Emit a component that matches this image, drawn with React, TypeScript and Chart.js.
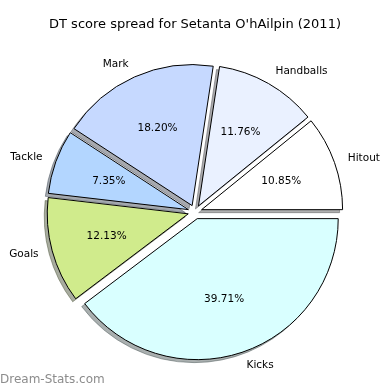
import React, { useEffect, useRef } from "react";
import { Chart, registerables } from "chart.js";

Chart.register(...registerables);

const TITLE = "DT score spread for Setanta O'hAilpin (2011)";
const WATERMARK = "Dream-Stats.com";
const categories = ["Hitout", "Handballs", "Mark", "Tackle", "Goals", "Kicks"];
const values = [10.85, 11.76, 18.2, 7.35, 12.13, 39.71];
const colors = ["#FFFFFF", "#EAF1FF", "#C6D9FF", "#B3D6FF", "#D0EB8C", "#D9FFFF"];
const EXPLODE = 7;
const FONT = "'DejaVu Sans', sans-serif";

function shadowColor(hex: string) {
  const r = Math.round(parseInt(hex.slice(1, 3), 16) * 0.3);
  const g = Math.round(parseInt(hex.slice(3, 5), 16) * 0.3);
  const b = Math.round(parseInt(hex.slice(5, 7), 16) * 0.3);
  return `rgba(${r},${g},${b},0.45)`;
}

// matplotlib draws counter-clockwise from 3 o'clock; Chart.js draws clockwise,
// so feed reversed arrays starting at 3 o'clock.
const dsLabels = [...categories].reverse();
const dsValues = [...values].reverse();
const dsColors = [...colors].reverse();

const piePlugin = {
  id: "mplPie",
  afterDatasetsUpdate(chart: any) {
    const meta = chart.getDatasetMeta(0);
    meta.data.forEach((arc: any) => {
      const mid = (arc.startAngle + arc.endAngle) / 2;
      arc.x += Math.cos(mid) * EXPLODE;
      arc.y += Math.sin(mid) * EXPLODE;
    });
  },
  beforeDatasetsDraw(chart: any) {
    const ctx = chart.ctx;
    const meta = chart.getDatasetMeta(0);
    meta.data.forEach((arc: any, i: number) => {
      ctx.save();
      ctx.translate(-3, 3);
      ctx.beginPath();
      ctx.moveTo(arc.x, arc.y);
      ctx.arc(arc.x, arc.y, arc.outerRadius, arc.startAngle, arc.endAngle);
      ctx.closePath();
      const c = shadowColor(dsColors[i]);
      ctx.fillStyle = c;
      ctx.strokeStyle = c;
      ctx.lineWidth = 1;
      ctx.fill();
      ctx.stroke();
      ctx.restore();
    });
  },
  afterDraw(chart: any) {
    const ctx = chart.ctx;
    const meta = chart.getDatasetMeta(0);
    const total = dsValues.reduce((a, b) => a + b, 0);
    ctx.save();
    ctx.fillStyle = "#000";
    ctx.textBaseline = "middle";
    ctx.font = `10.5px ${FONT}`;
    meta.data.forEach((arc: any, i: number) => {
      const mid = (arc.startAngle + arc.endAngle) / 2;
      const r = arc.outerRadius;
      const lx = arc.x + Math.cos(mid) * r * 1.1;
      const ly = arc.y + Math.sin(mid) * r * 1.1;
      ctx.textAlign = Math.cos(mid) > 0 ? "left" : "right";
      ctx.fillText(dsLabels[i], lx, ly);
      const px = arc.x + Math.cos(mid) * r * 0.6;
      const py = arc.y + Math.sin(mid) * r * 0.6;
      ctx.textAlign = "center";
      ctx.fillText(((dsValues[i] / total) * 100).toFixed(2) + "%", px, py);
    });
    ctx.font = `13px ${FONT}`;
    ctx.textAlign = "center";
    ctx.fillText(TITLE, 195, 25);
    ctx.font = `12px ${FONT}`;
    ctx.fillStyle = "#8c8c8c";
    ctx.textAlign = "left";
    ctx.fillText(WATERMARK, 0, 380);
    ctx.restore();
  },
};

export default function App() {
  const ref = useRef<HTMLCanvasElement | null>(null);
  useEffect(() => {
    if (!ref.current) return;
    const chart = new Chart(ref.current, {
      type: "pie",
      data: {
        labels: dsLabels,
        datasets: [
          {
            data: dsValues,
            backgroundColor: dsColors,
            borderColor: "#000",
            borderWidth: 1,
          },
        ],
      },
      options: {
        responsive: false,
        animation: false,
        rotation: 90,
        radius: 141,
        layout: { padding: { left: 4, right: 4, top: 44, bottom: 10 } },
        plugins: {
          legend: { display: false },
          title: { display: false },
          tooltip: { enabled: false },
        },
      },
      plugins: [piePlugin],
    });
    return () => chart.destroy();
  }, []);
  return (
    <div style={{ position: "fixed", left: 0, top: 0, width: 390, height: 390, background: "#fff" }}>
      <canvas ref={ref} width={390} height={390} />
    </div>
  );
}
